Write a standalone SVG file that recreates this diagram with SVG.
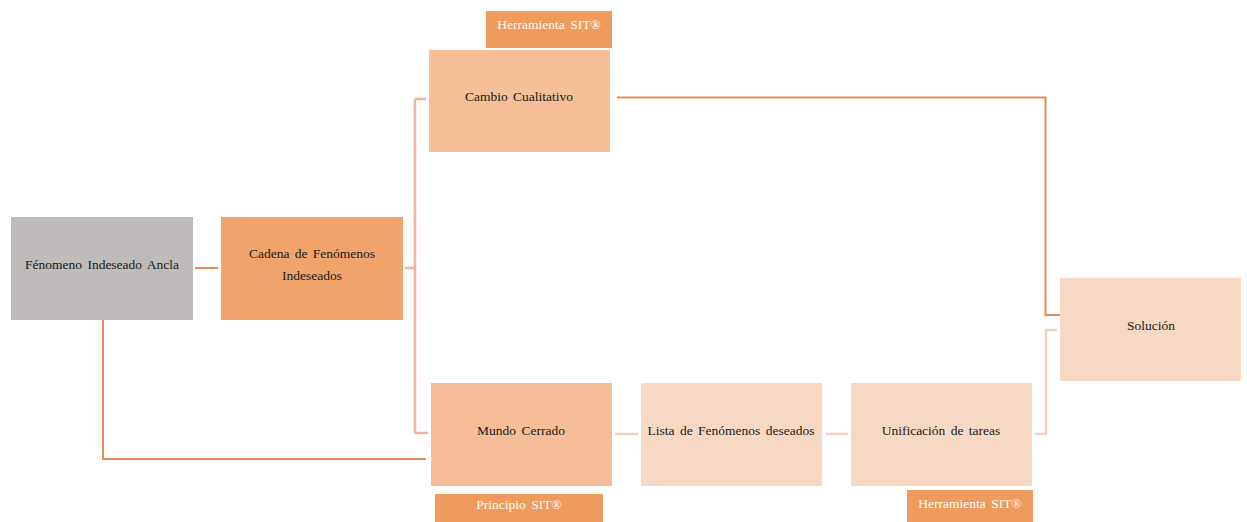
<svg xmlns="http://www.w3.org/2000/svg" width="1247" height="522" viewBox="0 0 1247 522">
  <style>
    text { font-family: "Liberation Serif", "Times New Roman", "DejaVu Serif", serif; font-size: 13.5px; text-anchor: middle; }
    .lbl { fill: #1a1a1a; word-spacing: 2px; }
    .tag { fill: #ffffff; word-spacing: 2px; }
    .strong { fill: none; stroke: #e8895a; stroke-width: 2; }
    .mid { fill: none; stroke: #f3b396; stroke-width: 2.5; }
    .soft { fill: none; stroke: #f6cfbd; stroke-width: 2.5; }
  </style>
  <rect width="1247" height="522" fill="#ffffff"/>

  <g id="connectors">
    <path class="strong" d="M195 268 H218"/>
    <path class="mid" d="M405 268 H416 M415 99 V433 M415 99 H426 M415 433 H428"/>
    <path class="strong" d="M103 314 V459 H426"/>
    <path class="strong" d="M617 97.5 H1045.5 V315 H1066"/>
    <path class="soft" d="M615 434 H638"/>
    <path class="soft" d="M826 434 H848"/>
    <path class="soft" d="M1035 434 H1046 V330 H1057"/>
  </g>

  <g id="ancla">
    <rect x="11" y="217" width="182" height="103" fill="#bfbbba"/>
    <text class="lbl" x="102" y="269">Fénomeno Indeseado Ancla</text>
  </g>
  <g id="cadena">
    <rect x="221" y="217" width="182" height="103" fill="#f0a46c"/>
    <text class="lbl" x="312" y="258">Cadena de Fenómenos</text>
    <text class="lbl" x="312" y="280">Indeseados</text>
  </g>
  <g id="herramienta-top">
    <rect x="486" y="11" width="126" height="37" fill="#f09a5c"/>
    <text class="tag" x="549" y="29">Herramienta SIT®</text>
  </g>
  <g id="cambio">
    <rect x="429" y="50" width="181" height="102" fill="#f5bf98"/>
    <text class="lbl" x="519" y="101">Cambio Cualitativo</text>
  </g>
  <g id="mundo">
    <rect x="431" y="383" width="181" height="103" fill="#f5be98"/>
    <text class="lbl" x="521" y="435">Mundo Cerrado</text>
  </g>
  <g id="principio">
    <rect x="435" y="494" width="168" height="28" fill="#f09a5c"/>
    <text class="tag" x="519" y="509">Principio SIT®</text>
  </g>
  <g id="lista">
    <rect x="641" y="383" width="181" height="103" fill="#f7d8c2"/>
    <text class="lbl" x="731" y="435">Lista de Fenómenos deseados</text>
  </g>
  <g id="unificacion">
    <rect x="851" y="383" width="181" height="103" fill="#f7d8c2"/>
    <text class="lbl" x="941" y="435">Unificación de tareas</text>
  </g>
  <g id="herramienta-bottom">
    <rect x="907" y="490" width="126" height="32" fill="#f09a5c"/>
    <text class="tag" x="970" y="508">Herramienta SIT®</text>
  </g>
  <g id="solucion">
    <rect x="1060" y="278" width="181" height="103" fill="#f7d8c2"/>
    <text class="lbl" x="1151" y="330">Solución</text>
  </g>
</svg>
